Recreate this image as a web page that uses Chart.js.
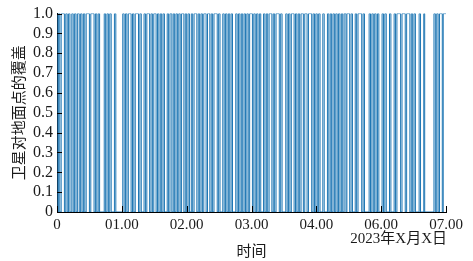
<!DOCTYPE html>
<html>
<head>
<meta charset="utf-8">
<script src="https://cdn.jsdelivr.net/npm/chart.js@4"></script>
<style>
  html, body { margin: 0; padding: 0; background: #fff; }
  #wrap { width: 473px; height: 261px; }
</style>
</head>
<body>
<div id="wrap"><canvas id="cov"></canvas></div>
<script>
// minutes after start at which coverage flips
const switchMin = [
  1.5, 3, 4.5,
  8, 9.5, 11, 12.5, 14,
  16, 17.5, 19, 20.5, 22,
  24, 25.5, 27, 28.5, 30, 31.5,
  35, 36.5,
  40, 41.5, 43, 44.5, 46,
  51, 52.5, 54, 55.5, 57, 58.5,
  62, 63.5,
  71, 72.5, 74, 75.5, 77,
  80, 81.5, 83, 84.5,
  88, 89.5, 91,
  94, 95.5, 97,
  100, 101.5, 103, 104.5,
  107, 108.5, 110, 111.5, 113, 114.5, 116,
  119, 120.5, 122,
  124, 125.5, 127, 128.5, 130, 131.5, 133, 134.5,
  137, 138.5, 140, 141.5, 143,
  145, 146.5, 148,
  151, 152.5, 154, 155.5, 157, 158.5,
  161, 162.5,
  165, 166.5, 168, 169.5,
  173, 174.5, 176,
  179, 180.5, 182, 183.5, 185, 186.5, 188, 189.5,
  193, 194.5, 196, 197.5, 199, 200.5, 202, 203.5, 205, 206.5, 208,
  211, 212.5, 214, 215.5, 217, 218.5, 220,
  223, 224.5, 226, 227.5, 229,
  232, 233.5, 235, 236.5,
  240, 241.5, 243,
  247, 248.5, 250, 251.5, 253,
  256, 257.5, 259, 260.5, 262, 263.5,
  266, 267.5,
  270, 271.5,
  275, 276.5, 278, 279.5, 281, 282.5, 284,
  287, 288.5,
  292, 293.5, 295, 296.5, 298, 299.5, 301, 302.5, 304, 305.5, 307, 308.5, 310,
  312, 313,
  316, 317.5, 319,
  322, 323.5, 325,
  329, 330.5, 332,
  337, 338.5, 340, 341.5, 343, 344.5, 346, 347.5,
  351, 352.5, 354, 355.5,
  359, 360.5,
  364, 365.5, 367,
  371, 372.5,
  376, 377.5,
  381, 382.5, 384, 385.5, 387,
  391, 392.5,
  396, 397,
  407, 408.5, 410, 411.5, 413,
  416, 417,
  420
];
const initialCoverage = 1;
const endMin = 420;

// the axis is labelled at 6 equal steps
const xTickLabels = ["0", "01.00", "02.00", "03.00", "04.00", "06.00", "07.00"];
const yTickLabels = ["0", "0.1", "0.2", "0.3", "0.4", "0.5", "0.6", "0.7", "0.8", "0.9", "1.0"];
const xStep = endMin / (xTickLabels.length - 1);

const latin = "'Liberation Serif', 'Noto Sans CJK SC', serif";

// build step points from the switch times
let state = initialCoverage;
const points = [{ x: 0, y: state }];
switchMin.forEach(t => {
  state = 1 - state;
  points.push({ x: t, y: state });
});
points.push({ x: endMin, y: state });

// inward tick marks + date caption
const extras = {
  id: "extras",
  afterDatasetsDraw(chart) {
    const { ctx, chartArea, scales } = chart;
    ctx.save();
    ctx.strokeStyle = "#000";
    ctx.lineWidth = 1;
    ctx.beginPath();
    xTickLabels.forEach((_, i) => {
      const px = Math.round(scales.x.getPixelForValue(i * xStep)) + 0.5;
      ctx.moveTo(px, chartArea.bottom);
      ctx.lineTo(px, chartArea.bottom - 6);
    });
    yTickLabels.forEach((_, i) => {
      const py = Math.round(scales.y.getPixelForValue(i / 10)) + 0.5;
      ctx.moveTo(chartArea.left, py);
      ctx.lineTo(chartArea.left + 5, py);
    });
    ctx.stroke();

    ctx.fillStyle = "#1a1a1a";
    ctx.font = "15px " + latin;
    ctx.textAlign = "right";
    ctx.textBaseline = "middle";
    ctx.fillText("2023年X月X日", chartArea.right + 1, chartArea.bottom + 27);
    ctx.restore();
  }
};

new Chart(document.getElementById("cov"), {
  type: "line",
  data: {
    datasets: [{
      data: points,
      borderColor: "#1f77b4",
      borderWidth: 1,
      pointRadius: 0,
      stepped: "after",
      tension: 0,
      fill: false
    }]
  },
  options: {
    responsive: true,
    maintainAspectRatio: false,
    animation: false,
    events: [],
    layout: { padding: { top: 12, right: 27, left: 0, bottom: 0 } },
    plugins: { legend: { display: false }, tooltip: { enabled: false } },
    scales: {
      x: {
        type: "linear",
        min: 0,
        max: endMin,
        afterFit: s => { s.height = 49; },
        afterBuildTicks: s => { s.ticks = xTickLabels.map((_, i) => ({ value: i * xStep })); },
        grid: { display: false, drawTicks: false },
        border: { display: true, color: "#000", width: 1 },
        ticks: {
          padding: 4,
          maxRotation: 0,
          autoSkip: false,
          color: "#1a1a1a",
          font: { family: latin, size: 15 },
          callback: v => xTickLabels[Math.round(v / xStep)]
        },
        title: {
          display: true,
          text: "时间",
          color: "#1a1a1a",
          font: { family: latin, size: 15 },
          padding: { top: 13, bottom: 0 }
        }
      },
      y: {
        min: 0,
        max: 1,
        afterFit: s => { s.width = 57; },
        grid: { display: false, drawTicks: false },
        border: { display: true, color: "#000", width: 1 },
        ticks: {
          stepSize: 0.1,
          autoSkip: false,
          padding: 4,
          color: "#1a1a1a",
          font: { family: latin, size: 16 },
          callback: v => yTickLabels[Math.round(v * 10)]
        },
        title: {
          display: true,
          text: "卫星对地面点的覆盖",
          color: "#1a1a1a",
          font: { family: latin, size: 15 },
          padding: { top: 11, bottom: 0 }
        }
      }
    }
  },
  plugins: [extras]
});
</script>
</body>
</html>
